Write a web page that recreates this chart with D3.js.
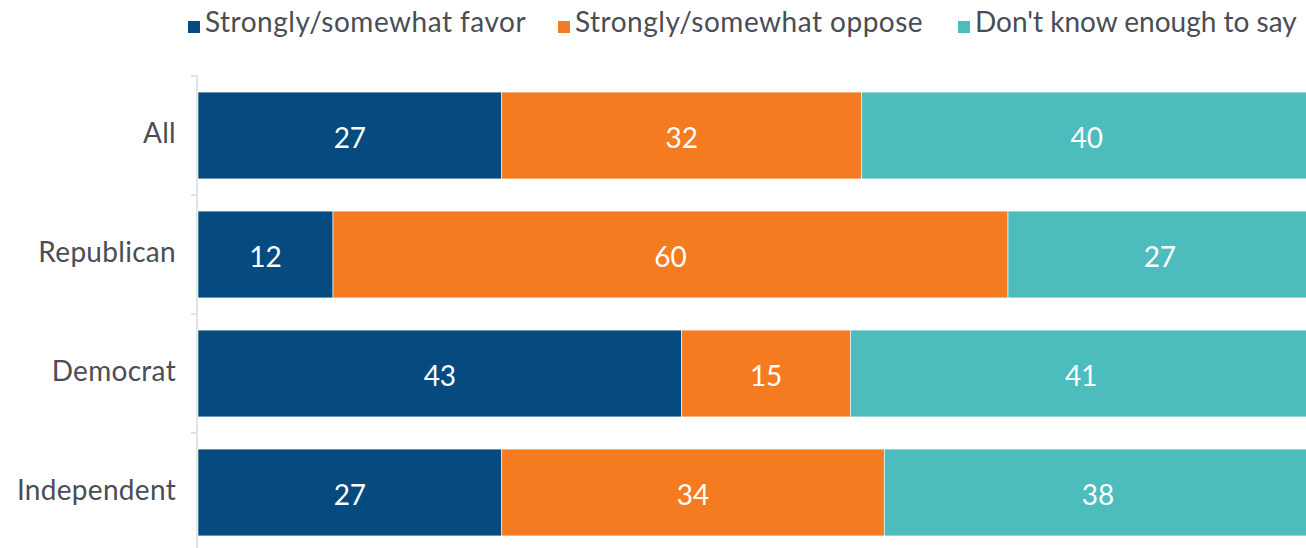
<!DOCTYPE html>
<html>
<head>
<meta charset="utf-8">
<script src="https://cdn.jsdelivr.net/npm/d3@7"></script>
<style>
  body { margin: 0; background: #fff; }
  text { font-family: Lato, "Open Sans", sans-serif; }
</style>
</head>
<body>
<svg width="1306" height="548"></svg>
<script>
const categories = ["All", "Republican", "Democrat", "Independent"]
const seriesNames = ["Strongly/somewhat favor", "Strongly/somewhat oppose", "Don't know enough to say"]
const favor = [27, 12, 43, 27]
const oppose = [32, 60, 15, 34]
const dontKnow = [40, 27, 41, 38]
const colors = ["#054b80", "#f47b20", "#4cbcbd"]

const width = 1306
const height = 548
const marginLeft = 198
const marginTop = 75

const svg = d3.select("svg")

const rows = categories.map((c, i) => ({
	name : c,
	favor : favor[i],
	oppose : oppose[i],
	dontKnow : dontKnow[i]
}))
const keys = ["favor", "oppose", "dontKnow"]
const stack = d3.stack().keys(keys)(rows)

// x runs past the right edge, the last segment gets cut like in the source
const xScale = d3.scaleLinear()
	.domain([0, 100])
	.range([marginLeft, marginLeft + 1125])

const yScale = d3.scaleBand()
	.domain(categories)
	.range([marginTop + 1, marginTop + 477])
	.paddingInner(0.27)
	.paddingOuter(0.135)

// axis line and boundary ticks
svg.append("line")
	.attr("x1", marginLeft - 1).attr("x2", marginLeft - 1)
	.attr("y1", marginTop).attr("y2", height)
	.attr("stroke", "#e3e3e3").attr("stroke-width", 2)

const step = yScale.step()
categories.forEach(c => {
	const yb = yScale(c) - step * 0.135
	svg.append("line")
		.attr("x1", marginLeft - 7).attr("x2", marginLeft)
		.attr("y1", yb).attr("y2", yb)
		.attr("stroke", "#e3e3e3").attr("stroke-width", 2)
})

// category labels
svg.append("g")
	.attr("transform", "translate(" + (marginLeft - 22) + ",0)")
	.call(d3.axisLeft(yScale).tickSize(0).tickPadding(0))
	.call(g => g.select(".domain").remove())
	.selectAll("text")
	.attr("dy", "0.28em")
	.style("font-size", "28px")
	.style("letter-spacing", "0.3px")
	.style("font-family", "Lato, sans-serif")
	.attr("fill", "#4a4d55")

// bars
const groups = svg.append("g").selectAll("g")
	.data(stack)
	.join("g")
	.attr("fill", (d, i) => colors[i])

groups.selectAll("rect")
	.data(d => d)
	.join("rect")
	.attr("x", d => xScale(d[0]))
	.attr("y", d => yScale(d.data.name))
	.attr("width", d => xScale(d[1]) - xScale(d[0]))
	.attr("height", yScale.bandwidth())
	.attr("stroke", "#fff")
	.attr("stroke-width", 0.6)

groups.selectAll("text")
	.data(d => d)
	.join("text")
	.attr("x", d => (xScale(d[0]) + xScale(d[1])) / 2)
	.attr("y", d => yScale(d.data.name) + yScale.bandwidth() / 2)
	.attr("dy", "0.43em")
	.attr("text-anchor", "middle")
	.attr("fill", "#fff")
	.style("font-size", "28px")
	.text(d => d[1] - d[0])

// legend
const legendX = [188, 558, 958]
const legendSpacing = [0.5, 0.5, 0]
seriesNames.forEach((s, i) => {
	svg.append("rect")
		.attr("x", legendX[i]).attr("y", 21)
		.attr("width", 12).attr("height", 12)
		.attr("fill", colors[i])
	svg.append("text")
		.attr("x", legendX[i] + 17).attr("y", 32)
		.style("font-size", "28px")
		.style("letter-spacing", legendSpacing[i] + "px")
		.attr("fill", "#4a4d55")
		.text(s)
})
</script>
</body>
</html>
